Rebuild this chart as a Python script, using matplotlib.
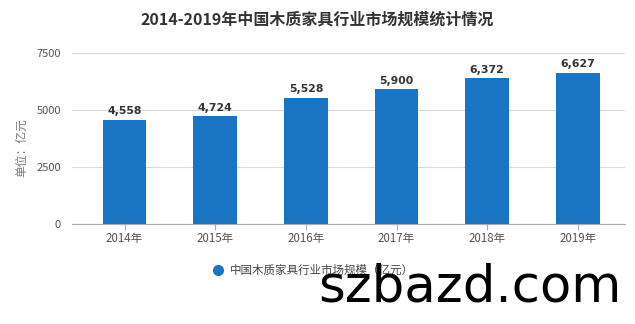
import matplotlib
matplotlib.use('Agg')
import matplotlib.pyplot as plt

plt.rcParams['font.family'] = ['Noto Sans CJK SC', 'DejaVu Sans']

years = ['2014年', '2015年', '2016年', '2017年', '2018年', '2019年']
values = [4558, 4724, 5528, 5900, 6372, 6627]
yticks = [0, 2500, 5000, 7500]
title = '2014-2019年中国木质家具行业市场规模统计情况'
ylabel = '单位：亿元'
legend_label = '中国木质家具行业市场规模（亿元）'

BAR_C = '#1a74c4'
GRID_C = '#d9d9d9'

fig = plt.figure(figsize=(6.35, 3.24), dpi=100)
ax = fig.add_axes([72 / 635, 1 - 224 / 324, 553 / 635, (224 - 52.7) / 324])

x = list(range(len(years)))
ax.bar(x, values, width=0.48, color=BAR_C, zorder=3)
for xi, v in zip(x, values):
    ax.text(xi, v + 150, f'{v:,}', ha='center', va='bottom', fontsize=7.8,
            fontweight='bold', color='#333333', family='DejaVu Sans')

ax.set_xlim(-0.58, 5.52)
ax.set_ylim(0, 7500)
ax.set_yticks(yticks)
ax.set_yticklabels([str(t) for t in yticks], fontsize=8, color='#555555')
ax.set_xticks(x)
ax.set_xticklabels(years, fontsize=8.3, color='#555555')
ax.grid(axis='y', color=GRID_C, linewidth=0.8, zorder=0)
ax.tick_params(axis='y', length=0, pad=8)
ax.tick_params(axis='x', length=4, color='#aaaaaa', pad=2)
for s in ['top', 'right', 'left']:
    ax.spines[s].set_visible(False)
ax.spines['bottom'].set_color('#aaaaaa')
ax.spines['bottom'].set_linewidth(0.8)

fig.text(22 / 635, 1 - 148 / 324, ylabel, rotation=90, ha='center', va='center',
         fontsize=8.5, color='#777777')
fig.text(0.5, 1 - 20 / 324, title, ha='center', va='center', fontsize=11.5,
         fontweight='bold', color='#333333')

# legend
fig.lines.append(plt.Line2D([218 / 635], [1 - 270 / 324], marker='o', markersize=7,
                            color=BAR_C, transform=fig.transFigure, linestyle=''))
fig.text(230 / 635, 1 - 270 / 324, legend_label, ha='left', va='center',
         fontsize=8.3, color='#444444')

# watermark
fig.text(318 / 635, 1 - 302 / 324, 'szbazd.com', ha='left', va='baseline',
         fontsize=37, color='black', family='DejaVu Sans')

fig.savefig('out.png', dpi=100)
